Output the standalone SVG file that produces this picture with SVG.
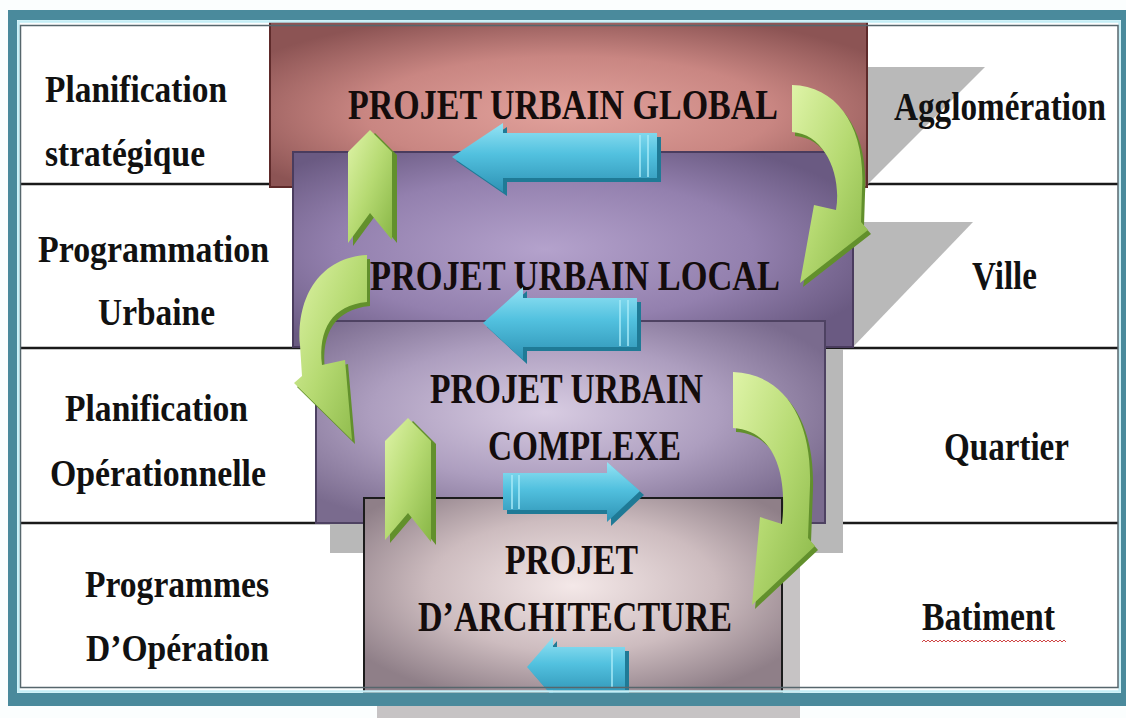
<svg xmlns="http://www.w3.org/2000/svg" width="1126" height="718" viewBox="0 0 1126 718">
<defs>
<style>
.lbl{font-family:"Liberation Serif","Times New Roman",serif;font-weight:bold;font-size:37px;fill:#111}
.rl{font-size:41px}
.ctr{font-family:"Liberation Serif","Times New Roman",serif;font-weight:bold;font-size:43px;fill:#140c0c}
.row{stroke:#1a1a1a;stroke-width:2.5}
.shadow{fill:#b9b9b9}
.bdark{fill:#1f7a96}
.gdark{fill:#62902c}
.cap{stroke:#a6eaf7;stroke-width:1.5;fill:none}
</style>
<radialGradient id="g1" cx="50%" cy="55%" r="62%">
<stop offset="0" stop-color="#e2a29c"/><stop offset="0.55" stop-color="#c98682"/><stop offset="1" stop-color="#8c5454"/>
</radialGradient>
<radialGradient id="g2" cx="45%" cy="50%" r="62%">
<stop offset="0" stop-color="#b4a2cc"/><stop offset="0.6" stop-color="#9380ae"/><stop offset="1" stop-color="#6a5a82"/>
</radialGradient>
<radialGradient id="g3" cx="45%" cy="45%" r="62%">
<stop offset="0" stop-color="#d8cce2"/><stop offset="0.55" stop-color="#ad9ebf"/><stop offset="1" stop-color="#7a6b8e"/>
</radialGradient>
<radialGradient id="g4" cx="50%" cy="45%" r="62%">
<stop offset="0" stop-color="#f4e8e8"/><stop offset="0.55" stop-color="#cdbcbf"/><stop offset="1" stop-color="#8f7f88"/>
</radialGradient>
<linearGradient id="gb" x1="0" y1="0" x2="0" y2="1">
<stop offset="0" stop-color="#95e3f4"/><stop offset="0.45" stop-color="#52c1df"/><stop offset="1" stop-color="#2e92b4"/>
</linearGradient>
<linearGradient id="gg" x1="0" y1="0" x2="1" y2="1">
<stop offset="0" stop-color="#dff4a8"/><stop offset="0.5" stop-color="#b6da72"/><stop offset="1" stop-color="#88b646"/>
</linearGradient>
<linearGradient id="gs" x1="0" y1="0" x2="1" y2="0">
<stop offset="0" stop-color="#b0b0b0"/><stop offset="1" stop-color="#c8c8c8"/>
</linearGradient>
</defs>

<rect x="0" y="0" width="1126" height="718" fill="#fbfefe"/>

<g id="frame-back">
<rect x="20" y="24" width="1098" height="664" fill="#ffffff"/>
</g>

<g id="grid-lines">
<line class="row" x1="20" y1="184" x2="293" y2="184"/>
<line class="row" x1="862" y1="184" x2="1118" y2="184"/>
<line class="row" x1="20" y1="348" x2="316" y2="348"/>
<line class="row" x1="826" y1="348" x2="1118" y2="348"/>
<line class="row" x1="20" y1="523" x2="364" y2="523"/>
<line class="row" x1="800" y1="523" x2="1118" y2="523"/>
</g>

<g id="shadows">
<polygon class="shadow" points="867,67 985,67 867,185" fill="url(#gs)"/>
<polygon class="shadow" points="853,222 973,222 853,347"/>
<rect x="330" y="349" width="513" height="204" fill="#b8b8b8"/>
<rect x="377" y="512" width="423" height="206" fill="#c6c3c4"/>
</g>

<g id="box-global">
<rect x="270" y="22" width="597" height="165" fill="url(#g1)" stroke="#5e2a2a" stroke-width="2"/>
<text class="ctr" x="348" y="119" textLength="430" lengthAdjust="spacingAndGlyphs">PROJET URBAIN GLOBAL</text>
</g>
<g id="box-local">
<rect x="293" y="152" width="560" height="195" fill="url(#g2)" stroke="#4a3c5e" stroke-width="2"/>
<text class="ctr" x="370" y="290" textLength="410" lengthAdjust="spacingAndGlyphs">PROJET URBAIN LOCAL</text>
</g>
<g id="box-complexe">
<rect x="316" y="321" width="509" height="202" fill="url(#g3)" stroke="#4e4262" stroke-width="2"/>
<text class="ctr" x="430" y="403" textLength="273" lengthAdjust="spacingAndGlyphs">PROJET URBAIN</text>
<text class="ctr" x="488" y="460" textLength="193" lengthAdjust="spacingAndGlyphs">COMPLEXE</text>
</g>
<g id="box-architecture">
<rect x="364" y="498" width="418" height="195" fill="url(#g4)" stroke="#1c1c1c" stroke-width="2"/>
<text class="ctr" x="505" y="574" textLength="133" lengthAdjust="spacingAndGlyphs">PROJET</text>
<text class="ctr" x="418" y="631" textLength="314" lengthAdjust="spacingAndGlyphs">D’ARCHITECTURE</text>
</g>

<g id="label-planification-strategique">
<text class="lbl" x="45" y="102" textLength="182" lengthAdjust="spacingAndGlyphs">Planification</text>
<text class="lbl" x="45" y="166" textLength="160" lengthAdjust="spacingAndGlyphs">stratégique</text>
</g>
<g id="label-programmation-urbaine">
<text class="lbl" x="38" y="262" textLength="231" lengthAdjust="spacingAndGlyphs">Programmation</text>
<text class="lbl" x="98" y="325" textLength="117" lengthAdjust="spacingAndGlyphs">Urbaine</text>
</g>
<g id="label-planification-operationnelle">
<text class="lbl" x="65" y="421" textLength="183" lengthAdjust="spacingAndGlyphs">Planification</text>
<text class="lbl" x="50" y="486" textLength="216" lengthAdjust="spacingAndGlyphs">Opérationnelle</text>
</g>
<g id="label-programmes-operation">
<text class="lbl" x="85" y="597" textLength="184" lengthAdjust="spacingAndGlyphs">Programmes</text>
<text class="lbl" x="86" y="661" textLength="183" lengthAdjust="spacingAndGlyphs">D’Opération</text>
</g>
<g id="label-agglomeration">
<text class="lbl rl" transform="translate(894,120) scale(0.81,1)" x="0" y="0">Agglomération</text>
</g>
<g id="label-ville">
<text class="lbl rl" x="972" y="289" textLength="65" lengthAdjust="spacingAndGlyphs">Ville</text>
</g>
<g id="label-quartier">
<text class="lbl rl" x="944" y="460" textLength="125" lengthAdjust="spacingAndGlyphs">Quartier</text>
</g>
<g id="label-batiment">
<text class="lbl rl" x="922" y="630" textLength="133" lengthAdjust="spacingAndGlyphs">Batiment</text>
<path d="M922 642 l2 -2 l2 2 l2 -2 l2 2 l2 -2 l2 2 l2 -2 l2 2 l2 -2 l2 2 l2 -2 l2 2 l2 -2 l2 2 l2 -2 l2 2 l2 -2 l2 2 l2 -2 l2 2 l2 -2 l2 2 l2 -2 l2 2 l2 -2 l2 2 l2 -2 l2 2 l2 -2 l2 2 l2 -2 l2 2 l2 -2 l2 2 l2 -2 l2 2 l2 -2 l2 2 l2 -2 l2 2 l2 -2 l2 2 l2 -2 l2 2 l2 -2 l2 2 l2 -2 l2 2 l2 -2 l2 2 l2 -2 l2 2 l2 -2 l2 2 l2 -2 l2 2 l2 -2 l2 2 l2 -2 l2 2 l2 -2 l2 2 l2 -2 l2 2 l2 -2 l2 2 l2 -2 l2 2 l2 -2 l2 2 l2 -2 l2 2" fill="none" stroke="#d04848" stroke-width="1"/>
</g>

<g id="connectors">
<g id="blue-arrow-1">
<path class="bdark" d="M456,161 L507,127 L507,137 L661,137 L661,182 L507,182 L507,196 Z"/>
<path d="M452,157 L503,123 L503,133 L657,133 L657,178 L503,178 L503,192 Z" fill="url(#gb)"/>
<path class="cap" d="M640 135 V177 M648 135 V177"/>
</g>
<g id="blue-arrow-2">
<path class="bdark" d="M487,327 L527,291 L527,302 L641,302 L641,351 L527,351 L527,364 Z"/>
<path d="M483,323 L523,287 L523,298 L637,298 L637,347 L523,347 L523,360 Z" fill="url(#gb)"/>
<path class="cap" d="M620 300 V346 M628 300 V346"/>
</g>
<g id="blue-arrow-3">
<path class="bdark" d="M507,477 L611,477 L611,466 L644,495 L611,526 L611,514 L507,514 Z"/>
<path d="M503,473 L607,473 L607,462 L640,491 L607,522 L607,510 L503,510 Z" fill="url(#gb)"/>
<path class="cap" d="M512 475 V509 M519 475 V509"/>
</g>
<g id="blue-arrow-4">
<path class="bdark" d="M531,671 L557,641 L557,651 L629,651 L629,694 L557,694 L557,701 Z"/>
<path d="M527,667 L553,637 L553,647 L625,647 L625,690 L553,690 L553,697 Z" fill="url(#gb)"/>
<path class="cap" d="M612 649 V688"/>
</g>
<g id="green-up-1">
<polygon class="gdark" points="375,133 397,155 397,243 375,216 353,246 353,155"/>
<polygon points="370,130 392,152 392,240 370,213 348,243 348,152" fill="url(#gg)"/>
</g>
<g id="green-up-2">
<polygon class="gdark" points="413,421 436,444 436,545 413,516 390,543 390,444"/>
<polygon points="408,418 431,441 431,542 408,513 385,540 385,441" fill="url(#gg)"/>
</g>
<g id="green-curve-1">
<path class="gdark" d="M795,89 C841,90 869,132 865,194 L864,226 L871,234 L803,287 L817,209 L839,214 C845,179 828,138 795,136 Z"/>
<path d="M792,85 C838,86 866,128 862,190 L861,222 L868,230 L800,283 L814,205 L836,210 C842,175 825,134 792,132 Z" fill="url(#gg)"/>
</g>
<g id="green-curve-2">
<path class="gdark" d="M370,259 C325,261 299,299 303,349 L305,380 L297,387 L355,444 L348,364 L325,369 C321,334 335,309 370,306 Z"/>
<path d="M367,255 C322,257 296,295 300,345 L302,376 L294,383 L352,440 L345,360 L322,365 C318,330 332,305 367,302 Z" fill="url(#gg)"/>
</g>
<g id="green-curve-3">
<path class="gdark" d="M736,376 C788,378 815,424 813,489 L811,542 L818,550 L755,609 L763,521 L785,528 C791,474 775,434 736,432 Z"/>
<path d="M733,372 C785,374 812,420 810,485 L808,538 L815,546 L752,605 L760,517 L782,524 C788,470 772,430 733,428 Z" fill="url(#gg)"/>
</g>
</g>

<g id="frame">
<path d="M8,10 H1126 V706 H8 Z M17,20 V693 H1121 V20 Z" fill="#4a8a9c" fill-rule="evenodd"/>
<rect x="18.5" y="21.5" width="1101" height="670" fill="none" stroke="#c4eef6" stroke-width="2.5"/>
<rect x="20.5" y="25.5" width="1097.5" height="662" fill="none" stroke="#56666c" stroke-width="1.5"/>
</g>
</svg>
